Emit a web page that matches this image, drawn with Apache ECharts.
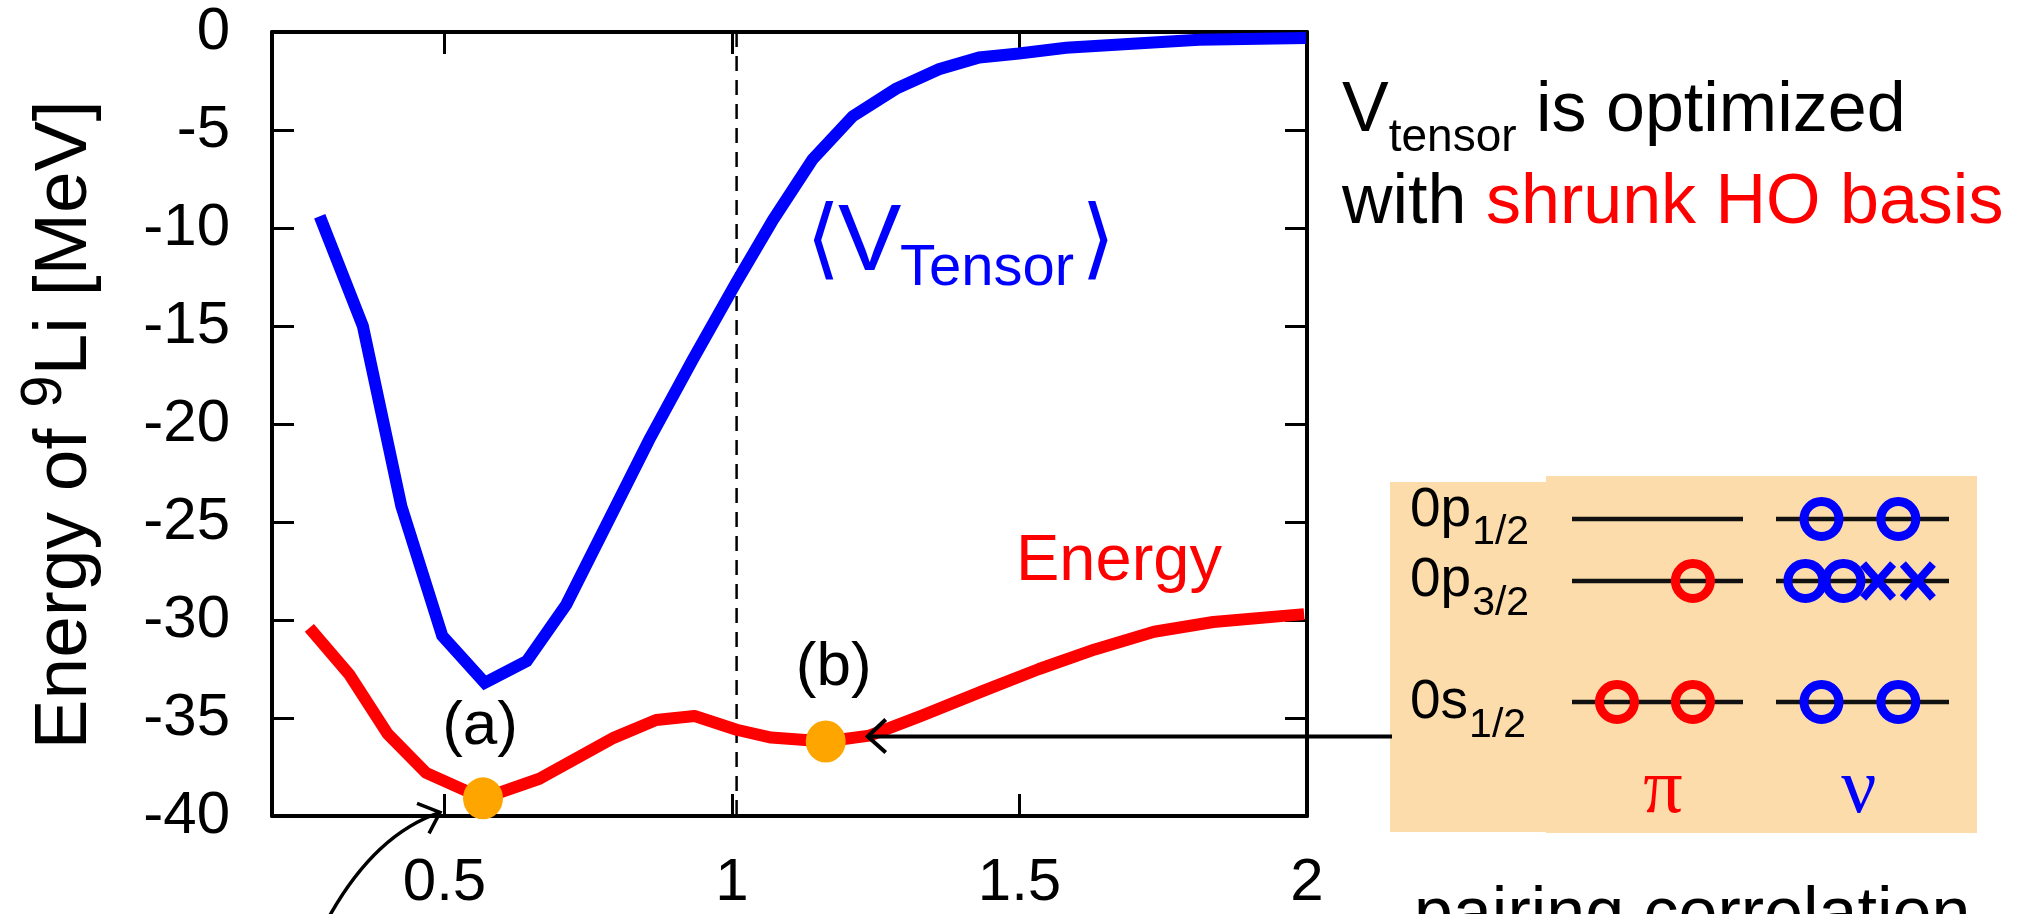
<!DOCTYPE html>
<html>
<head>
<meta charset="utf-8">
<script src="https://cdn.jsdelivr.net/npm/echarts@6/dist/echarts.min.js"></script>
<style>
  html, body { margin: 0; padding: 0; background: #ffffff; }
  #chart { width: 2034px; height: 914px; }
</style>
</head>
<body>
<div id="chart"></div>
<script>
// Scan of the 9Li ground state over the harmonic-oscillator basis parameter.
const tensorX = [0.283, 0.358, 0.425, 0.496, 0.570, 0.643, 0.712, 0.856, 0.932, 1.007, 1.071,
                 1.140, 1.210, 1.285, 1.360, 1.430, 1.499, 1.581, 1.696, 1.812, 1.998];
const tensorY = [-9.4, -15.0, -24.2, -30.8, -33.2, -32.1, -29.2, -20.8, -16.7, -12.8, -9.6,
                 -6.5, -4.3, -2.9, -1.9, -1.3, -1.1, -0.8, -0.6, -0.4, -0.3];
const energyX = [0.265, 0.335, 0.401, 0.468, 0.567, 0.665, 0.795, 0.868, 0.935, 1.008, 1.068,
                 1.163, 1.239, 1.328, 1.438, 1.534, 1.631, 1.734, 1.837, 1.995];
const energyY = [-30.4, -32.8, -35.8, -37.8, -39.1, -38.1, -36.0, -35.1, -34.9, -35.6, -36.0,
                 -36.2, -35.9, -34.9, -33.6, -32.5, -31.5, -30.6, -30.1, -29.7];
const markedX = [0.567, 1.163];
const markedY = [-39.1, -36.2];
const markedNames = ['(a)', '(b)'];
const xTickValues = [0.5, 1, 1.5, 2];
const dividerX = 1.008;

// Single-particle levels and their occupation ('o' particle, 'x' hole, '-' empty slot)
const levelNames = [['0p', '1/2'], ['0p', '3/2'], ['0s', '1/2']];
const protonFill = ['', '-o', 'oo'];
const neutronFill = ['oo', 'ooxx', 'oo'];

const FONT = '"Liberation Sans", Arial, Helvetica, sans-serif';
const SERIF = '"Liberation Serif", "Times New Roman", serif';

const chart = echarts.init(document.getElementById('chart'), null, { renderer: 'canvas' });

const frameAxisLine = { show: true, onZero: false, lineStyle: { color: '#000', width: 4 } };
const innerTick = { show: true, inside: true, length: 22, lineStyle: { color: '#000', width: 3 } };

chart.setOption({
  animation: false,
  backgroundColor: '#ffffff',
  textStyle: { fontFamily: FONT },
  grid: { left: 272, right: 727, top: 32, bottom: 98, containLabel: false, outerBoundsMode: 'none' },
  xAxis: [
    {
      type: 'value', position: 'bottom', min: 0.2, max: 2,
      axisLine: frameAxisLine,
      axisTick: Object.assign({}, innerTick, { customValues: xTickValues }),
      axisLabel: { customValues: xTickValues, fontSize: 60, color: '#000', margin: 37, fontFamily: FONT },
      splitLine: { show: false }
    },
    {
      type: 'value', position: 'top', min: 0.2, max: 2,
      axisLine: frameAxisLine,
      axisTick: Object.assign({}, innerTick, { customValues: xTickValues }),
      axisLabel: { show: false, customValues: xTickValues },
      splitLine: { show: false }
    }
  ],
  yAxis: [
    {
      type: 'value', position: 'left', min: -40, max: 0, interval: 5,
      axisLine: frameAxisLine,
      axisTick: innerTick,
      axisLabel: { fontSize: 60, color: '#000', margin: 42, fontFamily: FONT },
      splitLine: { show: false }
    },
    {
      type: 'value', position: 'right', min: -40, max: 0, interval: 5,
      axisLine: frameAxisLine,
      axisTick: innerTick,
      axisLabel: { show: false },
      splitLine: { show: false }
    }
  ],
  series: [
    {
      name: 'divider', type: 'line', z: 1, silent: true, symbol: 'none',
      data: [[dividerX, 0], [dividerX, -40]],
      lineStyle: { color: '#000', width: 2.5, type: [15, 9] }
    },
    {
      name: 'Tensor', type: 'line', z: 2, symbol: 'none',
      data: tensorX.map((x, i) => [x, tensorY[i]]),
      lineStyle: { color: '#0000ff', width: 12, join: 'miter' }
    },
    {
      name: 'Energy', type: 'line', z: 3, symbol: 'none',
      data: energyX.map((x, i) => [x, energyY[i]]),
      lineStyle: { color: '#ff0000', width: 12, join: 'round' }
    },
    {
      name: 'marked', type: 'scatter', z: 4, symbol: 'circle', symbolSize: [40, 42],
      itemStyle: { color: '#ffa500', opacity: 1 },
      data: markedX.map((x, i) => ({
        value: [x, markedY[i]],
        label: { offset: i === 0 ? [-3, 0] : [8, -3] }
      })),
      label: {
        show: true, position: 'top', distance: 19,
        formatter: p => markedNames[p.dataIndex],
        fontSize: 62, color: '#000', opacity: 1, fontFamily: FONT
      }
    }
  ]
});

// ---- annotations ----
function txt(x, y, text, size, color, extra) {
  return Object.assign({
    type: 'text', x: x, y: y, z: 100,
    style: Object.assign({
      text: text, fill: color, fontSize: size, fontFamily: FONT,
      align: 'left', verticalAlign: 'middle'
    }, (extra && extra.style) || {})
  }, extra && extra.el ? extra.el : {});
}
function seg(x1, y1, x2, y2, color, width) {
  return { type: 'line', z: 100, shape: { x1, y1, x2, y2 },
           style: { stroke: color, lineWidth: width, lineCap: 'butt' } };
}

const g = [];

// y-axis title
g.push({
  type: 'text', x: 65.5, y: 425, rotation: Math.PI / 2, z: 100,
  style: {
    text: '{m|Energy of }{s|9}{m|Li [MeV]}',
    align: 'center', verticalAlign: 'middle',
    rich: {
      m: { fontSize: 75, fontFamily: FONT, fill: '#000', lineHeight: 100, verticalAlign: 'middle' },
      s: { fontSize: 58, fontFamily: FONT, fill: '#000', lineHeight: 40, verticalAlign: 'top' }
    }
  }
});

// ⟨V_Tensor⟩ label on the tensor curve
g.push(txt(806, 245, '\u27E8', 88, '#0000ff', { style: { fontFamily: '"DejaVu Sans", sans-serif' } }));
g.push(txt(838, 244, 'V', 95, '#0000ff'));
g.push(txt(900, 269, 'Tensor', 58, '#0000ff'));
g.push(txt(1081, 245, '\u27E9', 88, '#0000ff', { style: { fontFamily: '"DejaVu Sans", sans-serif' } }));

// Energy label
g.push(txt(1016, 562.5, 'Energy', 65, '#ff0000'));

// statement on the right
g.push(txt(1342, 111.7, 'V', 70, '#000'));
g.push(txt(1388.7, 138, 'tensor', 46, '#000'));
g.push(txt(1536, 111.7, 'is optimized', 70, '#000'));
g.push(txt(1342, 203.7, 'with ', 70, '#000'));
g.push(txt(1486, 203.7, 'shrunk HO basis', 70, '#ff0000'));

// level scheme panel
g.push({ type: 'rect', z: 90, shape: { x: 1390, y: 482, width: 165, height: 350 }, style: { fill: '#fcdcaa' } });
g.push({ type: 'rect', z: 90, shape: { x: 1546, y: 476, width: 431, height: 357 }, style: { fill: '#fcdcaa' } });

const levelY = [519, 581, 702];
const nameBase = [530, 600, 721.7];
const subBase = [546.7, 618, 740];
const piLine = [1572, 1743];
const nuLine = [1776, 1949];
const slotFrac = { 2: [0.263, 0.707], 4: [0.17, 0.39, 0.59, 0.82] };

function drawMarks(fill, line, y, color) {
  const slots = slotFrac[fill.length] || [];
  for (let k = 0; k < fill.length; k++) {
    const cx = line[0] + slots[k] * (line[1] - line[0]);
    if (fill[k] === 'o') {
      g.push({ type: 'circle', z: 102, shape: { cx: cx, cy: y, r: 17.5 },
               style: { fill: 'transparent', stroke: color, lineWidth: 9 } });
    } else if (fill[k] === 'x') {
      g.push(Object.assign(seg(cx - 15, y - 17, cx + 15, y + 17, color, 8), { z: 102 }));
      g.push(Object.assign(seg(cx - 15, y + 17, cx + 15, y - 17, color, 8), { z: 102 }));
    }
  }
}

levelNames.forEach((nm, i) => {
  const main = nm[0];
  g.push(txt(1410, nameBase[i] - 0.3465 * 55, main, 55, '#000'));
  const mainW = main === '0s' ? (0.556 + 0.5) * 55 : (0.556 + 0.556) * 55;
  g.push(txt(1410 + mainW + 1, subBase[i] - 0.3465 * 41, nm[1], 41, '#000'));
  g.push(Object.assign(seg(piLine[0], levelY[i], piLine[1], levelY[i], '#111', 4.5), { z: 101 }));
  g.push(Object.assign(seg(nuLine[0], levelY[i], nuLine[1], levelY[i], '#111', 4.5), { z: 101 }));
  drawMarks(protonFill[i], piLine, levelY[i], '#ff0000');
  drawMarks(neutronFill[i], nuLine, levelY[i], '#0000ff');
});

g.push(txt(1663, 792, '\u03C0', 78, '#ff0000', { style: { fontFamily: SERIF, align: 'center' } }));
g.push(txt(1859, 792, '\u03BD', 78, '#0000ff', { style: { fontFamily: SERIF, align: 'center' } }));

// caption running off the bottom edge
g.push(txt(1414, 941 - 0.3465 * 70, 'pairing correlation', 70, '#000'));

// arrows pointing at the marked states
const pa = chart.convertToPixel({ seriesIndex: 3 }, [markedX[0], markedY[0]]);
const pb = chart.convertToPixel({ seriesIndex: 3 }, [markedX[1], markedY[1]]);

const tipA = [pa[0] - 43, pa[1] + 14];
g.push({ type: 'bezierCurve', z: 100,
  shape: { x1: 322, y1: 930, x2: tipA[0], y2: tipA[1], cpx1: 370, cpy1: 836 },
  style: { stroke: '#000', lineWidth: 3.5, fill: null } });
g.push({ type: 'polyline', z: 100,
  shape: { points: [[tipA[0] - 23, tipA[1] - 9], tipA, [tipA[0] - 11, tipA[1] + 21]] },
  style: { stroke: '#000', lineWidth: 3.5, fill: null } });

const tipB = [pb[0] + 42, pb[1] - 5];
g.push(seg(1392, tipB[1], tipB[0], tipB[1], '#000', 4));
g.push({ type: 'polyline', z: 100,
  shape: { points: [[tipB[0] + 18, tipB[1] - 17], tipB, [tipB[0] + 18, tipB[1] + 16]] },
  style: { stroke: '#000', lineWidth: 4, fill: null } });

chart.setOption({ graphic: { elements: g } });
</script>
</body>
</html>
